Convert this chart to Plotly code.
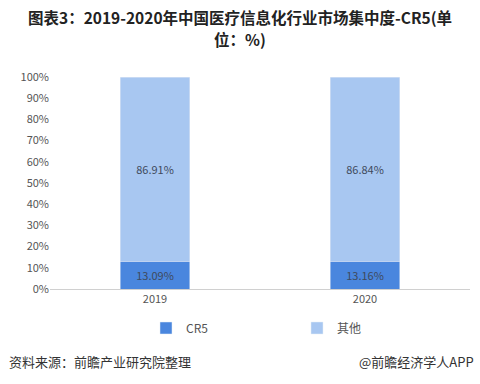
import plotly.graph_objects as go

years = ["2019", "2020"]
cr5 = [13.09, 13.16]
others = [86.91, 86.84]
tick_vals = [0, 10, 20, 30, 40, 50, 60, 70, 80, 90, 100]
tick_text = [f"{v}%" for v in tick_vals]

font_cn = "Microsoft YaHei, Noto Sans CJK SC, sans-serif"

fig = go.Figure()
fig.add_trace(go.Bar(
    x=years, y=cr5, name="CR5", marker_color="#4a86de",
    text=[f"{v:.2f}%" for v in cr5], textposition="inside",
    insidetextanchor="middle",
    textfont=dict(color="#3f4a5c", size=11, family=font_cn), width=0.33,
))
fig.add_trace(go.Bar(
    x=years, y=others, name="其他", marker_color="#a8c7f1",
    text=[f"{v:.2f}%" for v in others], textposition="inside",
    insidetextanchor="middle",
    textfont=dict(color="#3f4a5c", size=11, family=font_cn), width=0.33,
))

fig.update_layout(
    barmode="stack",
    width=480, height=384,
    paper_bgcolor="white", plot_bgcolor="white",
    margin=dict(l=50, r=10, t=77, b=95),
    font=dict(family=font_cn, color="#555555", size=11),
    showlegend=True,
    legend=dict(orientation="h", x=(297 - 50) / 420, xanchor="center", y=-0.184, yanchor="middle",
                font=dict(size=12, color="#555555"), itemwidth=30,
                entrywidth=106, traceorder="normal"),
    xaxis=dict(showline=True, linecolor="#d0d0d0", ticks="", tickfont=dict(size=11, color="#555555")),
    yaxis=dict(range=[0, 100], tickvals=tick_vals, ticktext=tick_text, showgrid=False,
               zeroline=False, showline=False, tickfont=dict(size=11, color="#555555")),
    uniformtext=dict(minsize=8, mode="show"),
)

fig.add_annotation(text="<b>图表3：2019-2020年中国医疗信息化行业市场集中度-CR5(单</b>",
                   xref="paper", yref="paper", x=(240 - 50) / 420, y=(289 - 17) / 212,
                   xanchor="center", yanchor="middle", showarrow=False,
                   font=dict(size=15.5, color="#222222", family=font_cn))
fig.add_annotation(text="<b>位：%)</b>",
                   xref="paper", yref="paper", x=(240 - 50) / 420, y=(289 - 39) / 212,
                   xanchor="center", yanchor="middle", showarrow=False,
                   font=dict(size=15.5, color="#222222", family=font_cn))

fig.add_annotation(text="资料来源：前瞻产业研究院整理", xref="paper", yref="paper",
                   x=(7 - 50) / 420, y=(289 - 361) / 212, xanchor="left", yanchor="middle", showarrow=False,
                   font=dict(size=13, color="#333333", family=font_cn))
fig.add_annotation(text="@前瞻经济学人APP", xref="paper", yref="paper",
                   x=(476 - 50) / 420, y=(289 - 361) / 212, xanchor="right", yanchor="middle", showarrow=False,
                   font=dict(size=13, color="#333333", family=font_cn))

fig.write_html("out.html", config={"displayModeBar": False},
               post_script="document.body.style.margin='0';document.body.style.overflow='hidden';")
